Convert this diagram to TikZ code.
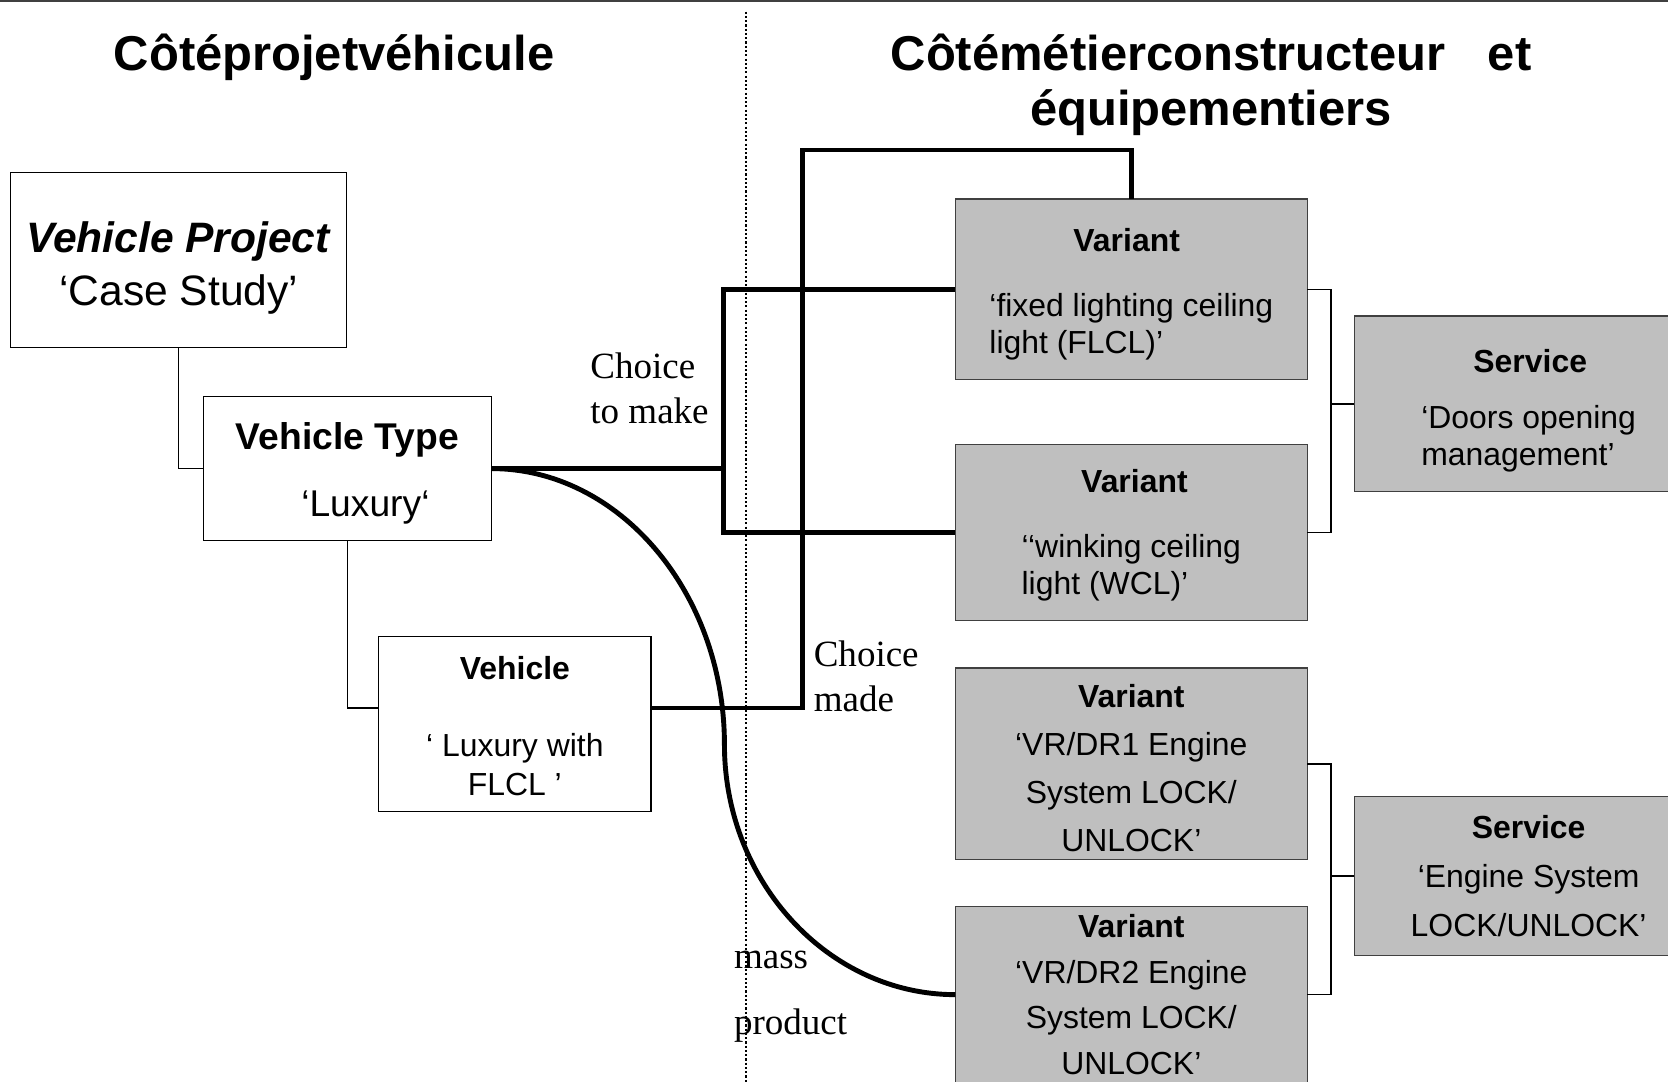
\documentclass[tikz,border=0pt]{standalone}
\usepackage{fontspec}
\setmainfont{Liberation Serif}
\setsansfont{Liberation Sans}
\usetikzlibrary{positioning}

\begin{document}
\begin{tikzpicture}[x=0.5pt, y=-0.5pt, every node/.style={inner sep=0pt, outer sep=0pt}]
    \tikzstyle{whitebox} = [rectangle, draw=black, line width=0.6pt, fill=white, align=center]
    \tikzstyle{greybox} = [rectangle, draw=black!75, line width=0.6pt, fill=black!25, font=\sffamily\fontsize{15}{17.5}\selectfont]
    \tikzstyle{heading} = [font=\sffamily\bfseries\fontsize{23}{26}\selectfont]
    \tikzstyle{note} = [font=\rmfamily\fontsize{17.4}{21}\selectfont, align=left, anchor=west]
    \tikzstyle{thickwire} = [line width=2.3pt]
    \tikzstyle{thinwire} = [line width=0.6pt]
    \tikzstyle{bracket} = [line width=0.8pt]

    \useasboundingbox (0,0) rectangle (1568,1017);
    \clip (0,0) rectangle (1568,1017);
    \draw[black!75, line width=1pt] (0,1) -- (1568,1);
    \draw[line width=1.1pt, dash pattern=on 1pt off 1pt] (701,11) -- (701,1017);

    % headings
    \node[heading, anchor=base] (lefttitle) at (314,66) {Côtéprojetvéhicule};
    \node[heading, align=center] (righttitle) at (1138.5,80) {Côtémétierconstructeur\hspace{20pt}et\\équipementiers};

    % vehicle side
    \node[whitebox, minimum width=158pt, minimum height=82.5pt, font=\sffamily\fontsize{20}{25}\selectfont] (project) at (168,244.5) {\rule{0pt}{21.6pt}\textbf{\textit{Vehicle Project}}\\‘Case Study’};
    \node[whitebox, minimum width=135.5pt, minimum height=67.5pt, font=\sffamily\fontsize{17.5}{31.5}\selectfont] (type) at (326.5,440.5) {\rule{0pt}{17.5pt}\textbf{Vehicle Type}\\\hspace*{17pt}‘Luxury‘};
    \node[whitebox, minimum width=128pt, minimum height=82.5pt, font=\sffamily\fontsize{15}{18}\selectfont] (vehicle) at (484,680.5) {\rule{0pt}{12.7pt}\textbf{Vehicle}\\[18.5pt]‘ Luxury with\\FLCL ’};

    % supplier side
    \node[greybox, minimum width=165.5pt, minimum height=85pt, align=left] (flcl) at (1063.5,272) {\rule{0pt}{15.7pt}\hspace*{39.5pt}\textbf{Variant}\\[13pt]‘fixed lighting ceiling\\light (FLCL)’};
    \node[greybox, minimum width=165.5pt, minimum height=82.5pt, align=left, below=30.5pt of flcl] (wcl) {\rule{0pt}{13.7pt}\hspace*{28pt}\textbf{Variant}\\[13pt]‘‘winking ceiling\\light (WCL)’};
    \node[greybox, minimum width=165.5pt, minimum height=90pt, align=center, below=22.5pt of wcl, font=\sffamily\fontsize{15}{22.5}\selectfont] (drone) {\rule{0pt}{14.7pt}\textbf{Variant}\\‘VR/DR1 Engine\\System LOCK/\\UNLOCK’};
    \node[greybox, minimum width=165.5pt, minimum height=83pt, align=center, below=22pt of drone, font=\sffamily\fontsize{15}{21.5}\selectfont] (drtwo) {\textbf{Variant}\\‘VR/DR2 Engine\\System LOCK/\\UNLOCK’};
    \node[greybox, minimum width=164pt, minimum height=82.5pt, align=left] (doors) at (1437,379.5) {\rule{0pt}{17.7pt}\hspace*{24.5pt}\textbf{Service}\\[8.5pt]‘Doors opening\\management’};
    \node[greybox, minimum width=164pt, minimum height=74.5pt, align=center, font=\sffamily\fontsize{15}{23}\selectfont] (engine) at (1437,823.5) {\textbf{Service}\\‘Engine System\\LOCK/UNLOCK’};

    % free labels
    \node[note] (tomake) at (555,365) {Choice\\to make};
    \node[note] (made) at (765,636) {Choice\\made};
    \node[note, font=\rmfamily\fontsize{17.4}{31}\selectfont] (mass) at (690,937) {mass\\product};

    \coordinate (fork) at (680,440.5);
    \coordinate (top) at (754,141);
    \coordinate (bend) at (681,700);

    \draw[thinwire] (project.south) |- (type.west);
    \draw[thinwire] (type.south) |- ([yshift=7.5pt]vehicle.west);
    \draw[thickwire] (type.east) -- (fork);
    \draw[thickwire] (flcl.west) -| (fork) |- (wcl.west);
    \draw[thickwire] ([yshift=7.5pt]vehicle.east) -| (top) -| (flcl.north);
    \draw[thickwire] (type.east) .. controls +(120,0) and +(0,-143) .. (bend) .. controls +(0,129) and +(-119,0) .. (drtwo.west);
    \draw[bracket] (flcl.east) -- ++(22,0) |- (wcl.east);
    \draw[bracket] (doors.west) -- ++(-22,0);
    \draw[bracket] (drone.east) -- ++(22,0) |- (drtwo.east);
    \draw[bracket] (engine.west) -- ++(-22,0);
\end{tikzpicture}
\end{document}
